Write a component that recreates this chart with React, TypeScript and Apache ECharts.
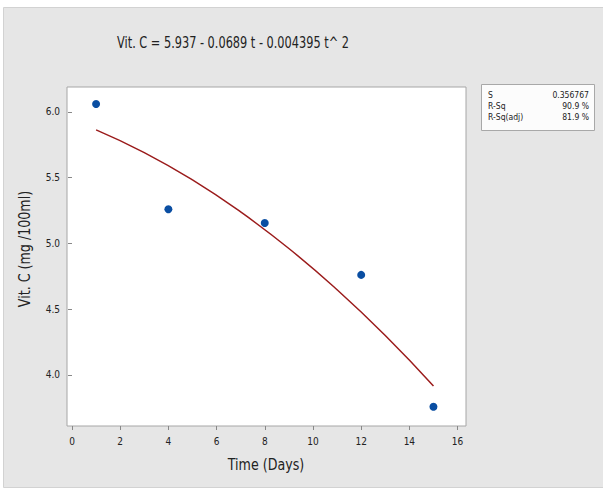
import React, { useEffect, useRef } from "react";
import * as echarts from "echarts";

const days = [1, 4, 8, 12, 15];
const vitC = [6.06, 5.26, 5.155, 4.76, 3.757];

const fitDays = [1, 3, 5, 7, 9, 11, 13, 15];
const fitVitC = [5.864, 5.691, 5.483, 5.239, 4.961, 4.647, 4.299, 3.915];

const xTicks = [0, 2, 4, 6, 8, 10, 12, 14, 16];
const yTicks = [4.0, 4.5, 5.0, 5.5, 6.0];

const statLabels = ["S", "R-Sq", "R-Sq(adj)"];
const statValues = ["0.356767", "90.9 %", "81.9 %"];

const titleText = "Vit. C = 5.937 - 0.0689 t - 0.004395 t^ 2";
const xName = "Time (Days)";
const yName = "Vit. C (mg /100ml)";

const FONT = "'Liberation Sans Narrow', 'DejaVu Sans Condensed', 'Open Sans', sans-serif";

export default function App() {
  const ref = useRef<HTMLDivElement>(null);
  useEffect(() => {
    if (!ref.current) return;
    const chart = echarts.init(ref.current, undefined, { renderer: "svg" });
    const statTexts: any[] = [];
    statLabels.forEach((l, i) => {
      statTexts.push({
        type: "text",
        x: 488,
        y: 95 + i * 11,
        scaleX: 0.9,
        style: { text: l, fontSize: 9.5, fontFamily: FONT, fill: "#222", verticalAlign: "middle", align: "left" },
      });
      statTexts.push({
        type: "text",
        x: 589,
        y: 95 + i * 11,
        scaleX: 0.9,
        style: { text: statValues[i], fontSize: 9.5, fontFamily: FONT, fill: "#222", verticalAlign: "middle", align: "right" },
      });
    });
    chart.setOption({
      animation: false,
      backgroundColor: "#ffffff",
      graphic: [
        {
          type: "rect",
          z: -10,
          silent: true,
          shape: { x: 3.5, y: 7.5, width: 605, height: 480 },
          style: { fill: "#e6e6e6", stroke: "#d2d2d2", lineWidth: 1 },
        },
        {
          type: "text",
          x: 233,
          y: 43,
          scaleX: 0.84,
          style: { text: titleText, fontSize: 15, fontFamily: FONT, fill: "#222", align: "center", verticalAlign: "middle" },
        },
        {
          type: "text",
          x: 266,
          y: 465,
          scaleX: 0.88,
          style: { text: xName, fontSize: 16, fontFamily: FONT, fill: "#222", align: "center", verticalAlign: "middle" },
        },
        {
          type: "text",
          x: 25,
          y: 249,
          rotation: Math.PI / 2,
          scaleX: 0.88,
          style: { text: yName, fontSize: 16, fontFamily: FONT, fill: "#222", align: "center", verticalAlign: "middle" },
        },
        {
          type: "rect",
          shape: { x: 481.5, y: 84.5, width: 113, height: 46 },
          style: { fill: "#fcfcfc", stroke: "#a8a8a8", lineWidth: 1 },
        },
        ...statTexts,
      ],
      grid: {
        left: 67,
        right: 137,
        top: 87,
        bottom: 63,
        show: true,
        backgroundColor: "#ffffff",
        borderColor: "#a6a6a6",
        borderWidth: 1,
      },
      xAxis: {
        type: "value",
        min: -0.207,
        max: 16.35,
        splitLine: { show: false },
        axisLine: { show: false },
        axisTick: { show: true, length: 4, customValues: xTicks, lineStyle: { color: "#888" } },
        axisLabel: {
          customValues: xTicks,
          margin: 10,
          fontSize: 10,
          fontFamily: FONT,
          color: "#222",
        },
      },
      yAxis: {
        type: "value",
        min: 3.61,
        max: 6.19,
        splitLine: { show: false },
        axisLine: { show: false },
        axisTick: { show: true, length: 4, customValues: yTicks, lineStyle: { color: "#888" } },
        axisLabel: {
          customValues: yTicks,
          margin: 7,
          fontSize: 10,
          fontFamily: FONT,
          color: "#222",
          formatter: (v: number) => v.toFixed(1),
        },
      },
      series: [
        {
          type: "line",
          data: fitDays.map((d, i) => [d, fitVitC[i]]),
          smooth: true,
          showSymbol: false,
          lineStyle: { color: "#9b1c1c", width: 1.5 },
          z: 2,
        },
        {
          type: "scatter",
          data: days.map((d, i) => [d, vitC[i]]),
          symbol: "circle",
          symbolSize: 8,
          itemStyle: { color: "#0a4ea2", opacity: 1 },
          z: 3,
        },
      ],
    });
    return () => chart.dispose();
  }, []);
  return (
    <div
      ref={ref}
      style={{ position: "fixed", left: 0, top: 0, width: 603, height: 489 }}
    />
  );
}
